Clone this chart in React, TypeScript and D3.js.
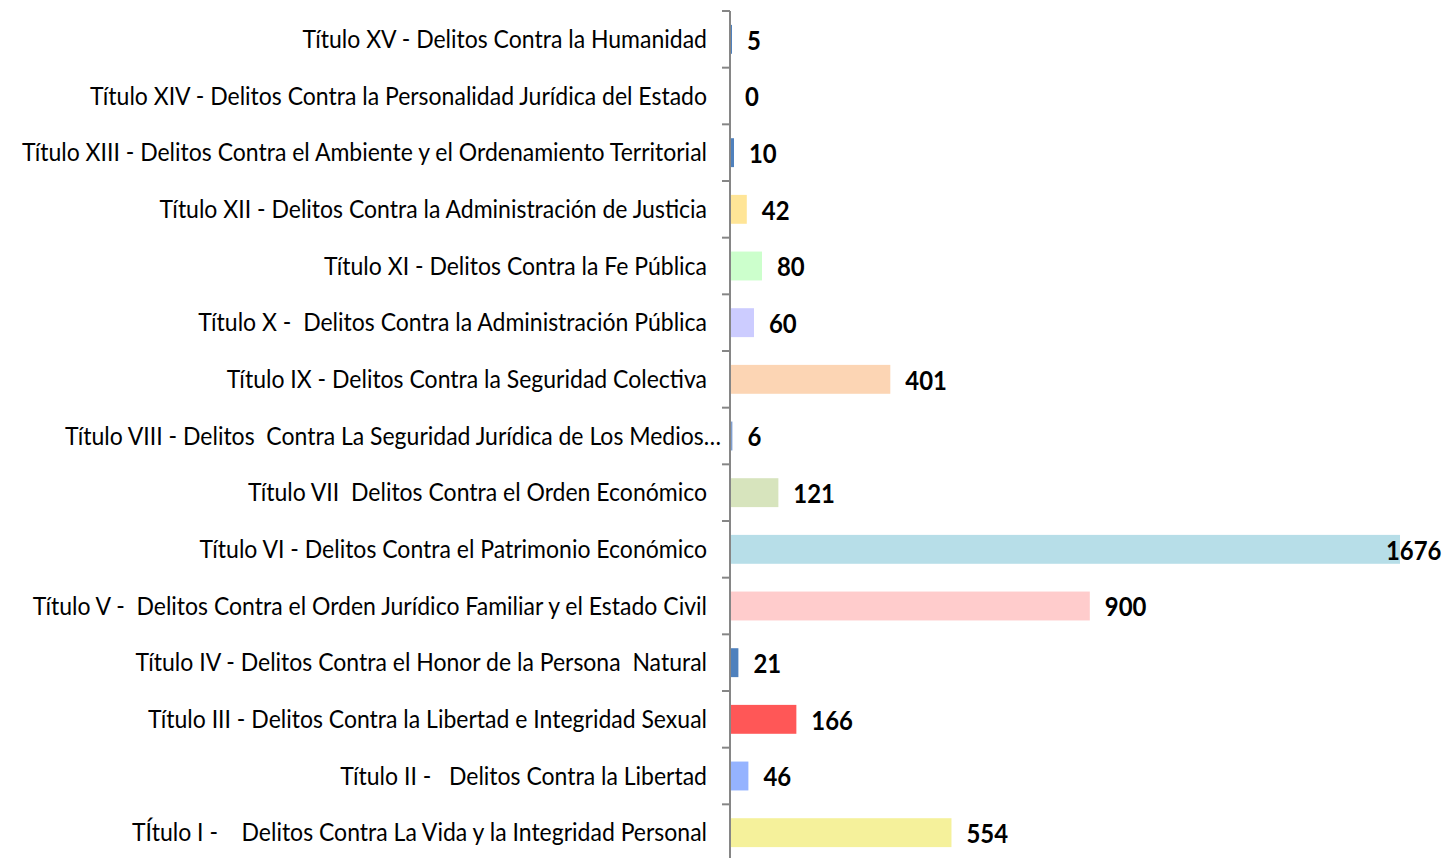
import React from 'react';
import * as d3 from 'd3';

const categories = [
  'Título XV - Delitos Contra la Humanidad',
  'Título XIV - Delitos Contra la Personalidad Jurídica del Estado',
  'Título XIII - Delitos Contra el Ambiente y el Ordenamiento Territorial',
  'Título XII - Delitos Contra la Administración de Justicia',
  'Título XI - Delitos Contra la Fe Pública',
  'Título X -  Delitos Contra la Administración Pública',
  'Título IX - Delitos Contra la Seguridad Colectiva',
  'Título VIII - Delitos  Contra La Seguridad Jurídica de Los Medios…',
  'Título VII  Delitos Contra el Orden Económico',
  'Título VI - Delitos Contra el Patrimonio Económico',
  'Título V -  Delitos Contra el Orden Jurídico Familiar y el Estado Civil',
  'Título IV - Delitos Contra el Honor de la Persona  Natural',
  'Título III - Delitos Contra la Libertad e Integridad Sexual',
  'Título II -   Delitos Contra la Libertad',
  'TÍtulo I -    Delitos Contra La Vida y la Integridad Personal',
];

const values = [5, 0, 10, 42, 80, 60, 401, 6, 121, 1676, 900, 21, 166, 46, 554];

const colors = [
  '#4f81bd', '#4f81bd', '#4f81bd', '#ffe597', '#ccffcc', '#ccccff', '#fcd5b4', '#7f9fd0',
  '#d7e4bd', '#b7dee8', '#ffcccc', '#4f81bd', '#ff5757', '#95b3ff', '#f5f19b',
];

const W = 1445;
const H = 858;
const axisX = 730;
const labelScale = 0.92;
const valueScale = 0.92;

export default function App() {
  const x = d3.scaleLinear().domain([0, 1676]).range([axisX, 1400]);
  const y = d3
    .scaleBand<string>()
    .domain(categories)
    .range([11, 861])
    .paddingInner(0.49)
    .paddingOuter(0.245);
  const step = y.step();
  const ticks = d3.range(categories.length + 1).map((k) => 11 + k * step);

  return (
    <svg
      width={W}
      height={H}
      style={{ position: 'absolute', left: 0, top: 0, background: '#fff' }}
    >
      {categories.map((c, i) => {
        const v = values[i];
        const cy = (y(c) as number) + y.bandwidth() / 2;
        const wEst = String(v).length * 14;
        const lx = Math.min(x(v) + 15, 1442 - wEst);
        const anchorX = c.endsWith('…') ? 721 : 707;
        return (
          <g key={c}>
            <rect
              x={axisX}
              y={y(c)}
              width={Math.max(0, x(v) - axisX)}
              height={y.bandwidth()}
              fill={colors[i]}
            />
            <g transform={`translate(${anchorX},${cy}) scale(${labelScale},1)`}>
              <text
                textAnchor="end"
                dy="0.35em"
                fontFamily="Lato, 'Open Sans', sans-serif"
                fontSize={25}
                fill="#000"
                style={{ whiteSpace: 'pre' }}
              >
                {c}
              </text>
            </g>
            <g transform={`translate(${lx},${cy + 1}) scale(${valueScale},1)`}>
              <text
                dy="0.36em"
                fontFamily="Lato, 'Open Sans', sans-serif"
                fontWeight="bold"
                fontSize={26}
                fill="#000"
              >
                {v}
              </text>
            </g>
          </g>
        );
      })}
      {ticks.map((t, k) => (
        <line key={k} x1={722} x2={axisX} y1={t} y2={t} stroke="#868686" strokeWidth={2} />
      ))}
      <line x1={axisX} x2={axisX} y1={11} y2={H} stroke="#868686" strokeWidth={2} />
    </svg>
  );
}
